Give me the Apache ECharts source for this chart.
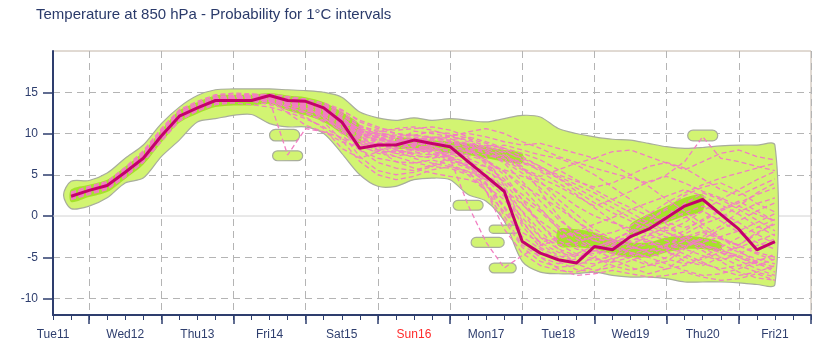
<!DOCTYPE html>
<html><head><meta charset="utf-8">
<script src="https://cdn.jsdelivr.net/npm/echarts@6/dist/echarts.min.js"></script>
<style>html,body{margin:0;padding:0;background:#fff}#c{width:819px;height:361px}</style>
</head><body><div id="c"></div>
<script>
// ---- time steps (hours after Tue11 00 UTC) ----
const hours = [6,12,18,24,30,36,42,48,54,60, 66,72,78,84,90,96,102,108,114,120, 126,132,138,144,150,156,162,168,174,180, 186,192,198,204,210,216,222,228,234,240];
const axisHours = [0,6,12,18,24,30,36,42,48,54,60,66,72,78,84,90,96,102,108,114,120,126,132,138,144,150,156,162,168,174,180,186,192,198,204,210,216,222,228,234,240,246,252];
const dayLabels = ['Tue11','Wed12','Thu13','Fri14','Sat15','Sun16','Mon17','Tue18','Wed19','Thu20','Fri21'];
const redDay = 'Sun16';
const yCats = [-12,-11,-10,-9,-8,-7,-6,-5,-4,-3,-2,-1,0,1,2,3,4,5,6,7,8,9,10,11,12,13,14,15,16,17,18,19,20];
const yTicks = [-10,-5,0,5,10,15];

// ---- control run ----
const control = [2.4,3.1,3.7,5.3,7.0,9.7,12.1,13.1,14.0,14.0, 14.0,14.6,14.0,13.9,13.1,11.4,8.2,8.6,8.6,9.2, 8.8,8.4,6.6,4.8,3.0,-3.1,-4.5,-5.3,-5.7,-3.7, -4.1,-2.5,-1.6,-0.2,1.2,2.0,0.2,-1.6,-4.1,-3.1];

// ---- probability envelope (light green) ----
const bandUpper = [4.2,4.3,5.2,7.0,8.6,11.2,13.2,14.6,15.3,15.4, 15.4,15.4,15.3,15.2,15.0,14.4,12.6,11.9,11.6,11.9, 11.6,11.8,11.6,11.4,11.8,12.2,12.0,10.6,10.0,9.6, 9.3,9.2,8.8,8.4,8.2,8.3,8.5,8.6,8.6,8.6];
const bandLower = [0.9,1.2,2.2,4.0,4.6,7.2,9.2,11.4,11.8,12.2, 12.3,11.2,10.8,10.8,10.0,7.6,5.0,3.6,3.6,4.4, 4.6,4.4,2.6,1.8,-0.6,-5.5,-6.8,-7.0,-7.0,-6.8, -7.2,-7.4,-7.4,-7.6,-8.0,-8.0,-8.0,-8.1,-8.3,-8.3];

// ---- higher probability cores (dark green) ----
const inner1Hours = hours.slice(0,17);
const inner1Upper = [3.2,3.8,4.4,6.0,7.8,10.4,12.8,13.8,14.6,14.7, 14.7,14.9,14.6,14.4,13.8,12.6,11.0];
const inner1Lower = [1.7,2.3,2.9,4.5,6.2,8.9,11.3,12.4,13.2,13.4, 13.4,13.6,12.8,12.2,11.4,10.0,8.8];
const inner4Hours = hours.slice(18,26);
const inner4Upper = [9.4,9.4,9.2,9.0,8.8,8.4,8.0,7.6];
const inner4Lower = [8.2,8.2,8.0,7.6,7.4,7.0,6.6,6.4];
const inner2Hours = hours.slice(27,37);
const inner2Upper = [-1.6,-1.6,-2.0,-2.8,-3.2,-3.2,-2.6,-2.4,-2.6,-3.2];
const inner2Lower = [-3.6,-3.8,-4.0,-4.6,-5.0,-5.0,-4.4,-4.0,-4.0,-4.2];
const inner3Hours = hours.slice(31,36);
const inner3Upper = [-1.0,0.2,1.2,2.2,2.6];
const inner3Lower = [-2.4,-1.6,-0.8,0.0,0.6];

// ---- isolated probability islands: [hourStart, hourEnd, low, high] ----
const islands = [
  [73,83,6.7,7.9],
  [72,82,9.1,10.5],
  [133,143,0.7,1.9],
  [145,155,-2.1,-1.1],
  [139,150,-3.8,-2.6],
  [145,154,-6.9,-5.7],
  [211,221,9.1,10.4]
];

// ---- ensemble members ----
const m1 = [2.0,2.8,3.4,4.8,6.5,9.0,11.5,12.8,13.6,13.8, 14.2,14.3,13.6,13.2,12.5,11.0,10.0,9.5,9.0,8.7, 8.2,7.5,7.0,6.0,4.5,2.0,0.5,-1.5,-2.5,-3.0, -2.8,-2.0,-0.5,1.0,2.5,3.5,4.0,3.0,1.5,0.5];
const m2 = [2.8,3.4,4.0,5.6,7.6,10.3,12.6,13.6,14.4,14.6, 14.5,14.0,13.2,12.4,11.6,10.8,10.2,9.8,9.4,9.0, 9.5,9.2,8.8,8.0,7.2,6.5,5.8,5.0,4.2,3.5, 4.0,5.0,6.0,6.5,5.8,4.5,3.2,2.5,3.5,4.5];
const m3 = [2.2,3.0,3.5,5.0,7.2,9.8,12.0,13.3,14.2,14.5, 14.8,14.1,12.5,11.0,10.2,9.5,8.8,8.0,7.2,6.5, 6.0,5.8,5.0,3.0,0.5,-2.5,-4.0,-5.5,-6.5,-6.8, -5.5,-4.0,-3.0,-4.2,-5.5,-6.0,-5.0,-3.5,-2.0,-1.0];
const m4 = [2.6,3.2,3.8,5.5,7.4,10.0,12.4,13.4,14.1,14.3, 13.9,13.5,13.0,12.0,10.6,8.2,7.0,7.8,9.0,10.3, 10.0,9.6,9.2,8.5,7.6,6.0,3.0,0.0,-2.5,-3.8, -3.0,-1.8,-0.5,0.8,0.0,-1.5,-2.8,-3.5,-2.2,-0.8];
const m5 = [2.3,2.9,3.6,5.1,6.8,9.4,11.8,12.9,13.8,14.2, 14.6,14.8,14.5,14.2,13.6,12.6,11.0,10.2,9.6,9.0, 8.4,7.8,7.2,4.0,0.0,-3.5,-5.0,-5.8,-5.2,-4.2, -4.5,-5.2,-6.0,-5.5,-4.0,-2.5,-1.2,0.5,1.5,2.2];
const m6 = [2.5,3.3,3.9,5.4,7.1,9.6,12.2,13.2,14.0,14.1, 14.0,13.8,13.5,13.0,12.2,10.5,8.0,6.5,5.8,5.5, 6.2,7.0,7.6,8.2,8.6,8.0,7.4,7.0,6.2,5.0, 3.5,2.0,0.5,-1.0,-2.5,-3.5,-4.5,-5.0,-5.8,-6.5];
const m7 = [2.1,2.7,3.3,4.9,6.9,9.5,11.9,13.0,13.9,14.4, 14.7,14.5,14.0,13.6,12.8,11.8,10.6,9.4,8.4,8.0, 8.6,9.0,8.2,6.5,4.0,1.5,-1.0,-3.0,-4.0,-4.6, -3.8,-3.2,-2.8,-2.0,-3.0,-4.2,-5.5,-6.8,-7.5,-7.8];
const m8 = [2.7,3.5,4.1,5.8,7.8,10.5,12.8,13.8,14.6,14.8, 14.6,14.4,13.8,13.1,12.0,10.0,7.2,5.5,5.0,5.3, 6.0,6.8,6.0,5.0,3.5,0.5,-2.5,-3.5,-3.2,-2.5, -3.0,-3.8,-4.2,-3.5,-2.2,-1.0,-0.2,1.2,2.8,4.0];
const m9 = [2.4,3.0,3.7,5.2,7.0,9.8,12.1,13.1,14.1,14.2, 14.3,14.0,13.4,13.7,13.0,11.8,10.4,9.9,9.3,8.6, 7.9,7.2,6.4,6.0,5.6,4.8,4.0,2.8,1.2,0.0, -0.8,-1.5,-2.2,-3.0,-3.6,-3.2,-2.5,-1.8,-0.8,0.3];
const m10 = [2.0,2.6,3.2,4.7,6.6,9.2,11.6,12.7,13.5,13.7, 13.5,13.2,12.6,11.8,10.8,9.4,8.0,7.0,6.6,6.4, 6.8,6.2,5.4,3.0,-0.5,-3.8,-5.5,-6.2,-6.0,-5.0, -3.5,-2.2,-1.0,0.0,1.5,2.8,2.0,0.8,-0.5,-1.8];
const m11 = [2.9,3.6,4.2,5.9,7.9,10.6,12.9,13.9,14.7,14.9, 14.8,14.7,14.4,14.0,13.4,12.8,11.6,10.8,10.0,9.6, 9.2,9.6,10.2,10.6,10.0,9.0,8.2,7.2,6.5,5.8, 5.2,4.6,4.0,5.0,6.6,9.6,7.0,6.6,6.0,5.5];
const m12 = [2.3,3.1,3.6,5.2,7.1,9.6,12.0,13.0,13.9,13.9, 14.1,14.0,7.4,10.6,10.2,9.0,8.4,9.4,9.0,8.4, 7.6,6.8,6.2,5.4,4.2,2.6,0.8,-1.2,-2.8,-4.0, -5.2,-6.2,-7.0,-6.4,-5.0,-3.6,-4.0,-5.0,-6.0,-5.2];
const m13 = [2.5,3.2,3.7,5.3,7.3,9.9,12.3,13.3,14.2,14.6, 14.4,14.2,13.7,13.3,12.6,11.2,9.2,8.4,7.8,7.6, 8.0,8.4,8.8,8.4,7.8,7.0,6.0,4.6,3.0,1.6, 0.4,-0.6,-1.6,-2.6,-1.8,-0.4,0.8,1.8,0.6,-0.6];
const m14 = [2.2,2.9,3.5,5.0,6.9,9.5,11.9,12.9,13.8,14.0, 14.3,14.6,14.2,13.8,13.0,11.6,9.8,8.0,6.6,5.8, 5.2,4.8,4.4,3.6,2.0,-0.8,-3.2,-4.4,-5.0,-5.4, -4.8,-4.0,-3.4,-3.8,-4.6,-5.6,-6.6,-7.2,-6.8,-6.0];
const m15 = [2.6,3.3,3.8,5.5,7.5,10.1,12.5,13.5,14.3,14.5, 14.2,13.9,13.4,12.8,12.2,11.4,10.4,9.6,8.8,8.2, 7.4,6.6,5.8,4.0,1.2,-2.0,-3.2,-2.6,-1.8,-1.0, -0.2,0.8,1.6,2.4,3.2,2.4,1.4,0.2,-1.2,-2.4];
const m16 = [2.4,3.0,3.6,5.2,7.0,9.7,12.2,13.2,14.0,14.1, 14.3,14.4,13.9,13.6,13.3,12.2,10.8,10.0,9.6,9.8, 10.2,10.0,9.4,8.8,8.0,6.8,5.4,4.0,2.6,1.0, -0.6,-2.0,-3.0,-3.6,-4.0,-4.8,-5.4,-4.6,-3.6,-2.8];
const m17 = [2.3,3.0,3.6,5.2,7.0,9.6,12.0,13.0,13.9,14.0, 14.2,14.3,13.8,13.5,12.9,11.6,9.6,8.9,8.6,8.8, 8.6,7.0,1.3,-3.2,-6.3,-4.8,-3.6,-2.8,-2.0,-2.6, -3.4,-4.4,-5.0,-4.2,-3.0,-2.0,-2.8,-3.6,-4.4,-5.0];
const m18 = [2.5,3.2,3.9,5.4,7.3,10.0,12.4,13.4,14.2,14.3, 14.1,14.2,13.6,13.4,12.6,11.0,9.0,8.8,9.0,9.4, 9.0,8.2,7.0,3.0,-1.6,-4.5,-6.0,-6.6,-6.8,-6.0, -4.6,-3.6,-2.4,-1.2,-0.2,0.6,-0.6,-2.0,-3.2,-4.0];
const m19 = [2.2,2.9,3.4,5.0,6.8,9.4,11.8,12.9,13.8,14.0, 14.4,14.4,14.0,13.8,13.4,12.4,10.8,10.4,10.0,9.8, 9.4,9.8,10.0,9.6,9.0,8.6,8.8,8.2,7.6,7.0, 7.8,8.0,7.2,6.4,5.6,6.6,7.6,8.0,7.2,6.8];
const m20 = [2.6,3.4,4.0,5.6,7.5,10.2,12.6,13.6,14.4,14.6, 14.4,14.2,13.2,12.6,11.4,9.2,6.6,5.0,4.4,4.8, 5.6,6.0,5.2,3.8,1.0,-2.8,-5.0,-6.4,-7.2,-7.0, -6.6,-7.0,-7.4,-7.2,-6.8,-7.4,-7.8,-7.6,-7.0,-7.8];
const m21 = [2.4,3.1,3.8,5.4,7.2,9.9,12.3,13.3,14.1,14.2, 14.1,14.3,13.9,13.4,12.4,10.8,9.6,10.2,10.6,10.8, 10.4,9.8,9.0,8.2,7.4,5.8,4.2,2.0,0.2,-1.6, -2.8,-3.6,-4.4,-5.2,-5.8,-5.0,-3.8,-2.6,-1.4,-0.4];
const m22 = [2.1,2.8,3.4,4.9,6.8,9.3,11.7,12.8,13.7,13.9, 14.0,14.1,13.5,12.9,11.9,10.2,8.6,7.6,7.2,7.8, 8.4,8.8,8.6,7.8,6.4,4.2,1.8,-0.4,-2.0,-3.0, -3.6,-3.0,-2.2,-1.4,-2.4,-3.4,-4.2,-4.8,-5.6,-6.2];
const m23 = [2.7,3.4,4.0,5.6,7.6,10.2,12.6,13.6,14.3,14.4, 14.5,14.6,14.1,13.5,12.7,11.5,9.9,9.0,8.2,7.4, 7.0,7.4,8.0,8.6,8.2,7.6,6.8,5.6,4.4,3.2, 2.0,1.0,0.0,-0.8,-1.4,-0.6,0.6,1.6,2.6,3.4];
const m24 = [2.3,3.0,3.5,5.1,7.0,9.6,12.0,13.1,14.0,14.2, 14.4,14.6,14.3,14.1,13.7,12.9,11.4,10.6,10.4,10.6, 10.8,10.4,9.6,7.2,3.6,-0.6,-3.4,-4.8,-5.6,-5.8, -5.2,-4.6,-4.0,-4.4,-5.0,-5.8,-6.4,-6.0,-5.4,-4.8];
const m25 = [2.5,3.2,3.8,5.3,7.1,9.8,12.2,13.2,14.0,14.1, 14.0,13.8,13.2,12.6,11.8,10.6,9.0,8.2,7.6,7.2, 7.2,7.6,7.8,7.4,6.8,5.6,4.6,3.6,2.4,1.2, 2.0,3.0,4.2,4.8,4.0,3.0,2.2,1.2,0.2,-0.6];
const m26 = [2.2,2.9,3.5,5.1,6.9,9.5,11.9,13.0,13.9,14.1, 14.2,14.1,13.6,13.0,12.2,11.0,9.4,8.6,8.2,8.6, 9.0,8.6,8.0,6.8,5.0,2.0,-1.0,-3.4,-4.6,-5.2, -5.6,-5.0,-4.2,-3.4,-2.6,-1.8,-2.6,-3.6,-4.6,-5.4];
const m27 = [2.6,3.3,3.9,5.5,7.4,10.0,12.4,13.4,14.2,14.4, 14.6,14.5,13.9,13.6,13.0,11.9,10.2,9.4,8.8,8.4, 8.2,8.0,7.4,6.6,5.4,3.8,2.4,1.0,-0.6,-2.0, -3.2,-4.6,-5.8,-6.4,-6.0,-5.2,-4.4,-3.8,-3.0,-2.2];
const m28 = [2.4,3.1,3.6,5.2,7.0,9.7,12.1,13.1,14.0,14.0, 14.1,14.2,13.8,13.3,12.3,10.6,8.8,8.0,7.6,8.0, 8.6,9.2,9.6,9.0,8.2,7.2,6.0,4.8,3.8,2.8, 1.6,0.4,-0.8,-1.8,-0.8,0.6,2.0,3.2,4.4,5.4];
const m29 = [2.3,3.0,3.7,5.3,7.2,9.8,12.2,13.2,14.1,14.3, 14.3,14.1,13.4,13.0,12.4,11.2,9.8,9.2,8.8,8.2, 7.8,7.0,6.0,4.4,2.4,-0.2,-2.6,-4.0,-4.8,-4.2, -3.2,-2.4,-1.6,-0.6,0.4,1.2,0.4,-0.8,-2.2,-3.4];
const m30 = [2.5,3.2,3.8,5.4,7.3,9.9,12.3,13.3,14.2,14.3, 14.4,14.4,14.0,13.7,13.1,11.8,10.0,9.2,9.0,9.2, 9.6,9.4,8.4,6.2,3.0,-1.2,-3.8,-5.0,-4.6,-3.6, -3.8,-4.4,-5.0,-5.8,-6.6,-7.2,-7.0,-6.4,-5.6,-4.6];
const m31 = [2.4,3.1,3.7,5.3,7.1,9.7,12.1,13.1,14.0,14.2, 14.2,14.2,13.7,13.2,12.5,11.3,9.4,8.6,8.0,7.6, 7.4,7.8,8.4,8.0,7.0,5.8,4.8,5.6,6.4,7.0, 6.2,5.0,3.6,2.0,0.6,-1.0,-2.6,-4.2,-5.6,-6.8];
const m32 = [2.3,3.0,3.6,5.1,7.0,9.6,12.0,13.1,14.0,14.1, 14.2,14.3,13.8,13.4,12.8,11.5,10.0,9.6,9.2,8.8, 8.8,8.4,7.8,6.8,5.4,3.4,1.0,-1.6,-3.6,-5.0, -6.0,-6.6,-6.0,-5.0,-3.8,-2.8,-1.6,-0.6,0.6,1.6];
const m33 = [2.6,3.3,3.9,5.5,7.4,10.0,12.4,13.4,14.2,14.4, 14.4,14.3,13.7,13.3,12.7,11.7,10.4,9.8,9.6,9.4, 9.2,9.0,8.6,7.8,6.6,5.2,3.4,1.4,-0.6,-2.4, -2.0,-1.2,0.2,1.6,2.8,3.8,4.6,5.2,5.8,6.4];
const m34 = [2.2,2.9,3.5,5.0,6.9,9.5,11.9,12.9,13.9,14.1, 14.3,14.5,14.1,13.9,13.3,12.0,10.2,9.0,8.0,7.0, 6.4,6.0,5.4,4.4,3.2,1.4,-0.6,-2.2,-3.4,-3.8, -3.0,-2.6,-3.2,-4.0,-3.6,-2.8,-3.4,-4.4,-5.2,-5.8];
const m35 = [2.5,3.2,3.8,5.4,7.3,9.9,12.3,13.3,14.1,14.3, 14.1,14.0,13.5,13.1,12.6,11.6,10.6,10.0,9.8,9.8, 9.6,9.0,8.2,7.6,7.0,6.4,5.6,4.6,3.4,2.2, 1.0,-0.2,-1.2,-2.0,-2.8,-3.6,-4.4,-5.4,-6.4,-7.2];
const m36 = [2.4,3.1,3.7,5.2,7.1,9.8,12.2,13.2,14.1,14.2, 14.0,14.1,13.6,13.2,12.2,10.4,8.4,7.8,7.8,8.2, 8.0,7.2,6.0,4.6,2.8,0.6,-1.8,-4.0,-5.8,-6.6, -6.2,-5.4,-4.6,-3.8,-3.0,-3.8,-5.0,-6.0,-6.8,-7.4];
const members = [m1,m2,m3,m4,m5,m6,m7,m8,m9,m10,m11,m12,m13,m14,m15,m16,m17,m18,m19,m20,m21,m22,m23,m24,m25,m26,m27,m28,m29,m30,m31,m32,m33,m34,m35,m36];

// ---- styles ----
const NAVY = '#2e3e6e';
const FONT = 'Liberation Sans, Arial, sans-serif';
const LIGHT_GREEN = '#d2f472';
const DARK_GREEN = '#a4e22a';
const EDGE = '#a8ad9c';
const PINK = '#f27ec2';
const CONTROL = '#c4006c';

function pair(hs, vs){ return hs.map((h,i)=>[h, vs[i]]); }

function bandSeries(hs, up, lo, fill, stroke, z, capStart){
  return {
    type:'custom', xAxisIndex:0, yAxisIndex:0, z:z, silent:true, animation:false,
    data:[[hs[0], up[0]]],
    renderItem:function(params, api){
      const pts = [];
      const n = hs.length;
      if (capStart) pts.push(api.coord([hs[0]-capStart, (up[0]+lo[0])/2]));
      for (let i=0;i<n;i++) pts.push(api.coord([hs[i], up[i]]));
      for (let i=n-1;i>=0;i--) pts.push(api.coord([hs[i], lo[i]]));
      return {type:'polygon', shape:{points:pts, smooth:0.3},
        style:{fill:fill, stroke:stroke||null, lineWidth:stroke?1.2:0}};
    }
  };
}

const series = [];
series.push({type:'line', xAxisIndex:0, yAxisIndex:0, z:1, silent:true, symbol:'none', animation:false,
  data:[[0,0],[252,0]], lineStyle:{color:'#d2d2d2', width:1, type:'solid'}});
series.push(bandSeries(hours, bandUpper, bandLower, LIGHT_GREEN, EDGE, 2, 2.5));
series.push({type:'custom', xAxisIndex:0, yAxisIndex:0, z:2, silent:true, animation:false,
  data:islands, encode:{x:[0,1], y:[2,3]},
  renderItem:function(params, api){
    const a = api.coord([api.value(0), api.value(3)]);
    const b = api.coord([api.value(1), api.value(2)]);
    const h = b[1]-a[1];
    return {type:'rect', shape:{x:a[0], y:a[1], width:b[0]-a[0], height:h, r:h/2},
      style:{fill:LIGHT_GREEN, stroke:EDGE, lineWidth:1.2}};
  }});
series.push(bandSeries(inner1Hours, inner1Upper, inner1Lower, DARK_GREEN, null, 3, 0));
series.push(bandSeries(inner4Hours, inner4Upper, inner4Lower, DARK_GREEN, null, 3, 0));
series.push(bandSeries(inner2Hours, inner2Upper, inner2Lower, DARK_GREEN, null, 3, 0));
series.push(bandSeries(inner3Hours, inner3Upper, inner3Lower, DARK_GREEN, null, 3, 0));
members.forEach(function(m, k){
  if (m.length !== hours.length) throw new Error('member ' + (k+1) + ' length ' + m.length);
  series.push({type:'line', xAxisIndex:0, yAxisIndex:0, z:4, silent:true, symbol:'none', animation:false,
    data:pair(hours, m), lineStyle:{color:PINK, width:1.3, type:[5,3]}});
});
series.push({type:'line', xAxisIndex:0, yAxisIndex:0, z:5, silent:true, symbol:'none', animation:false,
  data:pair(hours, control), lineStyle:{color:CONTROL, width:3}});

const majorTick = function(i){ return i % 4 === 2; };
const isYTick = function(i, v){ return yTicks.indexOf(Number(v)) >= 0; };

const option = {
  animation:false,
  backgroundColor:'#ffffff',
  title:{text:'Temperature at 850 hPa - Probability for 1°C intervals', left:31, top:2,
    textStyle:{fontSize:15, fontWeight:'normal', color:'#2a3a6a', fontFamily:FONT}},
  grid:{left:53, top:51, right:8, bottom:46, show:true, borderColor:'#c2b4a6', borderWidth:1, backgroundColor:'transparent'},
  xAxis:[
    {type:'value', min:0, max:252, show:false},
    {type:'category', data:axisHours.map(String), boundaryGap:false, position:'bottom',
      axisLine:{show:true, onZero:false, lineStyle:{color:NAVY, width:2}},
      axisTick:{show:true, interval:0, length:5, lineStyle:{color:NAVY, width:1}},
      axisLabel:{show:true, interval:function(i){return i%4===0;}, margin:14, hideOverlap:false,
        color:NAVY, fontSize:12, fontFamily:FONT,
        formatter:function(v, i){ const d = (i%4===0) ? dayLabels[i/4] : ''; if(!d) return ''; return d===redDay ? '{r|'+d+'}' : d; },
        rich:{r:{color:'#ff2a2a', fontSize:12, fontFamily:FONT}}},
      splitLine:{show:false}},
    {type:'category', data:axisHours.map(String), boundaryGap:false, position:'bottom',
      axisLine:{show:false, onZero:false},
      axisTick:{show:true, interval:majorTick, length:9, lineStyle:{color:NAVY, width:1.5}},
      axisLabel:{show:false},
      splitLine:{show:true, interval:majorTick, lineStyle:{color:'#b4b4b4', width:1, type:[7,5]}}}
  ],
  yAxis:[
    {type:'value', min:-12, max:20, show:false},
    {type:'category', data:yCats.map(String), boundaryGap:false, position:'left',
      axisLine:{show:true, onZero:false, lineStyle:{color:NAVY, width:2}},
      axisTick:{show:true, interval:isYTick, length:10, lineStyle:{color:NAVY, width:1.5}},
      axisLabel:{show:true, interval:isYTick, hideOverlap:false,
        formatter:function(v){ return yTicks.indexOf(Number(v)) >= 0 ? String(v) : ''; },
        margin:15, color:NAVY, fontSize:12, fontFamily:FONT},
      splitLine:{show:true, interval:function(i, v){const n=Number(v); return n!==0 && yTicks.indexOf(n)>=0;},
        lineStyle:{color:'#b4b4b4', width:1, type:[7,5]}}}
  ],
  series:series
};

const chart = echarts.init(document.getElementById('c'), null, {renderer:'canvas'});
chart.setOption(option);
</script>
</body></html>
